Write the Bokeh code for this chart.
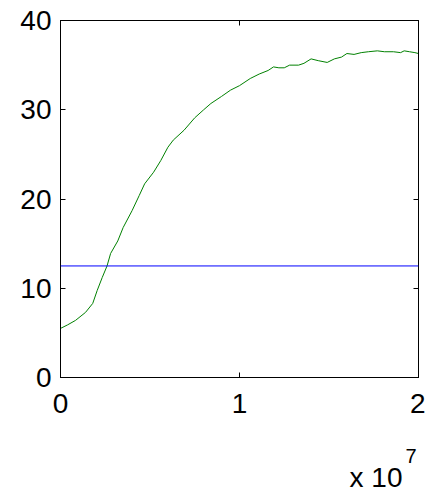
from bokeh.plotting import figure
from bokeh.models import FixedTicker, LinearAxis, Range1d, Span, Title
from bokeh.embed import file_html
from bokeh.resources import INLINE

# curve samples (x in units of 1e7)
x_vals = [0.00, 0.04, 0.084, 0.14, 0.18, 0.205, 0.233, 0.26, 0.28, 0.32, 0.35, 0.40,
          0.44, 0.47, 0.52, 0.56, 0.60, 0.63, 0.69, 0.75, 0.80, 0.84, 0.90, 0.95,
          1.00, 1.06, 1.11, 1.16, 1.19, 1.22, 1.25, 1.28, 1.33, 1.36, 1.40, 1.44,
          1.49, 1.53, 1.57, 1.60, 1.64, 1.68, 1.72, 1.77, 1.81, 1.86, 1.90, 1.92,
          1.95, 1.98, 2.00]
y_vals = [5.5, 5.9, 6.4, 7.3, 8.3, 9.75, 11.2, 12.5, 13.9, 15.3, 16.8, 18.7,
          20.4, 21.7, 23.0, 24.3, 25.8, 26.6, 27.7, 29.1, 30.0, 30.7, 31.5, 32.2,
          32.7, 33.5, 34.0, 34.4, 34.8, 34.7, 34.7, 35.0, 35.0, 35.2, 35.7, 35.5,
          35.3, 35.7, 35.9, 36.3, 36.2, 36.4, 36.5, 36.6, 36.5, 36.5, 36.4, 36.6,
          36.5, 36.4, 36.3]
threshold = 12.5
x_ticks = [0, 1e7, 2e7]
x_tick_labels = ["0", "1", "2"]
y_ticks = [0, 10, 20, 30, 40]
exponent_base = "x 10"
exponent = "7"

SCALE = 1e7
xs = [v * SCALE for v in x_vals]

FONT = "Liberation Sans"
FS = "28px"

p = figure(width=425, height=493, output_backend="svg", toolbar_location=None,
           x_range=Range1d(0, 2e7), y_range=Range1d(0, 40),
           min_border_left=60, min_border_right=7, min_border_top=20, min_border_bottom=116,
           x_axis_location=None, y_axis_location=None)
p.grid.visible = False
p.background_fill_color = "white"
p.border_fill_color = "white"
p.outline_line_color = "black"
p.outline_line_width = 1

def style(ax, labels=True):
    ax.axis_line_color = "black"
    ax.major_tick_in = 5
    ax.major_tick_out = 0
    ax.minor_tick_line_color = None
    ax.major_tick_line_color = "black"
    ax.major_label_text_font = FONT
    ax.major_label_text_font_size = FS
    ax.major_label_text_color = "black" if labels else None

xb = LinearAxis(ticker=FixedTicker(ticks=x_ticks))
xb.major_label_overrides = {t: l for t, l in zip(x_ticks, x_tick_labels)}
style(xb)
xb.major_label_standoff = 16
p.add_layout(xb, "below")

xt = LinearAxis(ticker=FixedTicker(ticks=x_ticks))
style(xt, labels=False)
xt.major_label_text_font_size = "0px"
xt.major_label_standoff = 0
p.add_layout(xt, "above")

yl = LinearAxis(ticker=FixedTicker(ticks=y_ticks))
style(yl)
yl.major_label_standoff = 9
p.add_layout(yl, "left")

yr = LinearAxis(ticker=FixedTicker(ticks=y_ticks))
style(yr, labels=False)
yr.major_label_text_font_size = "0px"
yr.major_label_standoff = 0
p.add_layout(yr, "right")

p.add_layout(Span(location=threshold, dimension="width", line_color="#0000ff", line_width=1))
p.line(xs, y_vals, line_color="#008000", line_width=1)

spacer = Title(text=" ", align="right", text_font=FONT, text_font_size="1px",
               text_font_style="normal", text_color="white", standoff=26)
t_exp = Title(text=exponent, align="right", offset=2, text_font=FONT,
              text_font_size="20px", text_font_style="normal", text_color="black",
              standoff=5)
t_base = Title(text=exponent_base, align="right", offset=16, text_font=FONT,
               text_font_size=FS, text_font_style="normal", text_color="black",
               standoff=-11)
p.add_layout(spacer, "below")
p.add_layout(t_exp, "below")
p.add_layout(t_base, "below")

open("out.html", "w").write(file_html(p, INLINE))
